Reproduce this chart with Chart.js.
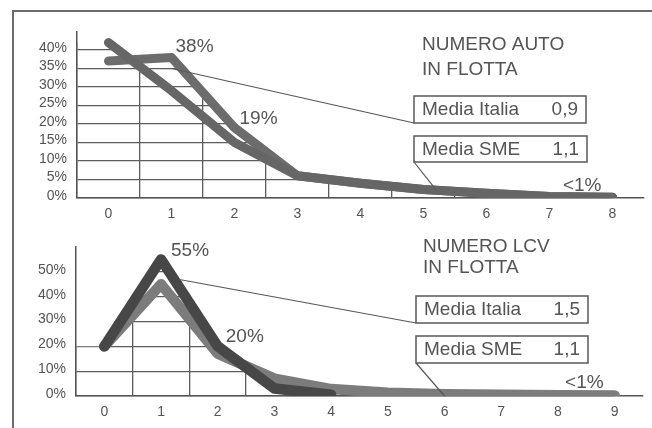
<!DOCTYPE html>
<html>
<head>
<meta charset="utf-8">
<script src="https://cdn.jsdelivr.net/npm/chart.js@4/dist/chart.umd.min.js"></script>
<style>
  html, body { margin: 0; padding: 0; background: #fff; }
  #wrap { position: relative; width: 652px; height: 428px; overflow: hidden; background: #fff; }
  #wrap canvas { position: absolute; left: 0; top: 0; }
  .rule-top { position: absolute; left: 12px; top: 10px; width: 640px; height: 2px; background: #6c6c6c; }
  .rule-left { position: absolute; left: 12px; top: 10px; width: 2px; height: 418px; background: #6c6c6c; }
</style>
</head>
<body>
<div id="wrap">
  <div class="rule-top"></div>
  <div class="rule-left"></div>
  <canvas id="autoChart" width="652" height="428"></canvas>
  <canvas id="lcvChart" width="652" height="428"></canvas>
</div>
<script>
// ---- Numero auto in flotta: share of fleets (%) by number of cars ----
const autoCategories = ['0', '1', '2', '3', '4', '5', '6', '7', '8'];
const autoItalia = [42, 29, 15, 6, 4, 2.3, 1.3, 0.4, 0.2];
const autoSme    = [37, 38, 19, 6, 4, 2.3, 1.3, 0.4, 0.2];
const autoTicks  = [0, 5, 10, 15, 20, 25, 30, 35, 40];
const autoAverages = ['0,9', '1,1'];   // Media Italia, Media SME

// ---- Numero LCV in flotta: share of fleets (%) by number of vans ----
const lcvCategories = ['0', '1', '2', '3', '4', '5', '6', '7', '8', '9'];
const lcvItalia = [20, 45, 17, 7, 2.8, 1.3, 0.7, 0.5, 0.3, 0.2];
const lcvSme    = [20, 55, 20, 3, 0.5];
const lcvTicks  = [0, 10, 20, 30, 40, 50];
const lcvAverages = ['1,5', '1,1'];

const FONT = '"Liberation Sans", Arial, sans-serif';
const TEXT = '#545454';

// Grid lines are only painted underneath the curves: wrap each scale's
// drawGrid in a clip made of the areas below every dataset.
const underCurveGrid = {
  id: 'underCurveGrid',
  beforeDraw(chart) {
    ['x', 'y'].forEach(id => {
      const sc = chart.scales[id];
      if (!sc || sc.__clipped) return;
      const original = sc.drawGrid;
      sc.drawGrid = function (area) {
        const ctx = chart.ctx;
        const xs = chart.scales.x, ys = chart.scales.y;
        const left = chart.chartArea.left;
        const base = ys.getPixelForValue(0) + 2;
        ctx.save();
        ctx.beginPath();
        chart.data.datasets.forEach(ds => {
          const v = ds.data;
          ctx.moveTo(left, base);
          ctx.lineTo(left, ys.getPixelForValue(v[0]));
          v.forEach((val, i) => ctx.lineTo(xs.getPixelForValue(i), ys.getPixelForValue(val)));
          ctx.lineTo(xs.getPixelForValue(v.length - 1), base);
          ctx.closePath();
        });
        ctx.clip();
        original.call(this, area);
        ctx.restore();
      };
      sc.__clipped = true;
    });
  }
};

// Panel title, average boxes with leader lines and value callouts.
const panelDecor = {
  id: 'panelDecor',
  afterDatasetsDraw(chart, args, o) {
    const ctx = chart.ctx;
    const xs = chart.scales.x, ys = chart.scales.y;
    ctx.save();
    ctx.font = '19px ' + FONT;
    ctx.fillStyle = TEXT;
    ctx.textBaseline = 'alphabetic';
    ctx.textAlign = 'left';
    o.title.forEach((line, i) => ctx.fillText(line, o.titleX, o.titleY + i * o.titleGap));

    o.boxes.forEach(b => {
      const px = xs.getPixelForValue(b.at[0]);
      const py = ys.getPixelForValue(b.at[1]);
      ctx.strokeStyle = '#585858';
      ctx.lineWidth = 1.2;
      ctx.beginPath();
      ctx.moveTo(px, py);
      ctx.lineTo(b.x, b.y + b.h);
      ctx.stroke();
      ctx.fillStyle = '#fff';
      ctx.fillRect(b.x, b.y, b.w, b.h);
      ctx.lineWidth = 1.5;
      ctx.strokeRect(b.x, b.y, b.w, b.h);
      ctx.fillStyle = TEXT;
      ctx.textAlign = 'left';
      ctx.fillText(b.label, b.x + 8, b.y + 19);
      ctx.textAlign = 'right';
      ctx.fillText(b.value, b.x + b.w - 8, b.y + 19);
    });

    o.callouts.forEach(c => {
      const val = chart.data.datasets[c.dataset].data[c.index];
      const text = val < 1 ? '<1%' : Math.round(val) + '%';
      const px = xs.getPixelForValue(c.index);
      const py = ys.getPixelForValue(val);
      ctx.fillStyle = TEXT;
      ctx.textAlign = c.align;
      ctx.fillText(text, px + c.dx, py + c.dy);
    });
    ctx.restore();
  }
};

function makeChart(canvasId, cfg) {
  return new Chart(document.getElementById(canvasId), {
    type: 'line',
    data: {
      labels: cfg.categories,
      datasets: cfg.series.map(s => ({
        label: s.label,
        data: s.data,
        borderColor: s.color,
        borderWidth: cfg.lineWidth,
        borderCapStyle: 'round',
        borderJoinStyle: 'round',
        pointRadius: 0,
        pointHoverRadius: 0,
        tension: 0,
        fill: false,
        order: s.order
      }))
    },
    options: {
      responsive: false,
      animation: false,
      events: [],
      layout: { padding: cfg.padding },
      plugins: {
        legend: { display: false },
        tooltip: { enabled: false },
        title: { display: false },
        panelDecor: cfg.decor
      },
      scales: {
        x: {
          type: 'category',
          offset: true,
          grid: { offset: true, color: '#5c5c5c', lineWidth: 1.3, drawTicks: false },
          border: { color: '#555', width: 1.5 },
          ticks: { color: TEXT, font: { family: FONT, size: 14 }, padding: cfg.xPad, maxRotation: 0, autoSkip: false },
          afterFit: sc => { sc.height = 20; }
        },
        y: {
          min: 0,
          max: cfg.yMax,
          afterBuildTicks: sc => { sc.ticks = cfg.ticks.map(v => ({ value: v })); },
          grid: { color: '#5c5c5c', lineWidth: 1.3, drawTicks: false },
          border: { color: '#555', width: 1.5 },
          ticks: {
            color: TEXT,
            font: { family: FONT, size: 14 },
            padding: 10,
            labelOffset: -2,
            callback: v => v + '%'
          },
          afterFit: sc => { sc.width = cfg.yWidth; }
        }
      }
    },
    plugins: [underCurveGrid, panelDecor]
  });
}

makeChart('autoChart', {
  categories: autoCategories,
  series: [
    { label: 'Media Italia', data: autoItalia, color: '#666666', order: 0 },
    { label: 'Media SME', data: autoSme, color: '#6c6c6c', order: 1 }
  ],
  lineWidth: 9,
  ticks: autoTicks,
  yMax: 45,
  yWidth: 77,
  xPad: 8,
  padding: { top: 31.5, left: 0, right: 8, bottom: 210 },
  decor: {
    title: ['NUMERO AUTO', 'IN FLOTTA'], titleX: 422, titleY: 50, titleGap: 25,
    boxes: [
      { label: 'Media Italia', value: autoAverages[0], x: 414, y: 96, w: 172, h: 27, at: [1, 35] },
      { label: 'Media SME', value: autoAverages[1], x: 414, y: 136, w: 173, h: 26, at: [5.2, 2.2] }
    ],
    callouts: [
      { dataset: 1, index: 1, dx: 4, dy: -5, align: 'left' },
      { dataset: 1, index: 2, dx: 5, dy: -4, align: 'left' },
      { dataset: 1, index: 8, dx: -11, dy: -6, align: 'right' }
    ]
  }
});

makeChart('lcvChart', {
  categories: lcvCategories,
  series: [
    { label: 'Media SME', data: lcvSme, color: '#474747', order: 0 },
    { label: 'Media Italia', data: lcvItalia, color: '#7c7c7c', order: 1 }
  ],
  lineWidth: 10.5,
  ticks: lcvTicks,
  yMax: 60,
  yWidth: 76,
  xPad: 8,
  padding: { top: 247, left: 0, right: 9, bottom: 12 },
  decor: {
    title: ['NUMERO LCV', 'IN FLOTTA'], titleX: 423, titleY: 252, titleGap: 21,
    boxes: [
      { label: 'Media Italia', value: lcvAverages[0], x: 416, y: 296, w: 172, h: 27, at: [1.3, 47] },
      { label: 'Media SME', value: lcvAverages[1], x: 416, y: 336, w: 172, h: 27, at: [6, 0] }
    ],
    callouts: [
      { dataset: 0, index: 1, dx: 10, dy: -3.5, align: 'left' },
      { dataset: 0, index: 2, dx: 8, dy: -4, align: 'left' },
      { dataset: 1, index: 9, dx: -11, dy: -7.5, align: 'right' }
    ]
  }
});
</script>
</body>
</html>
